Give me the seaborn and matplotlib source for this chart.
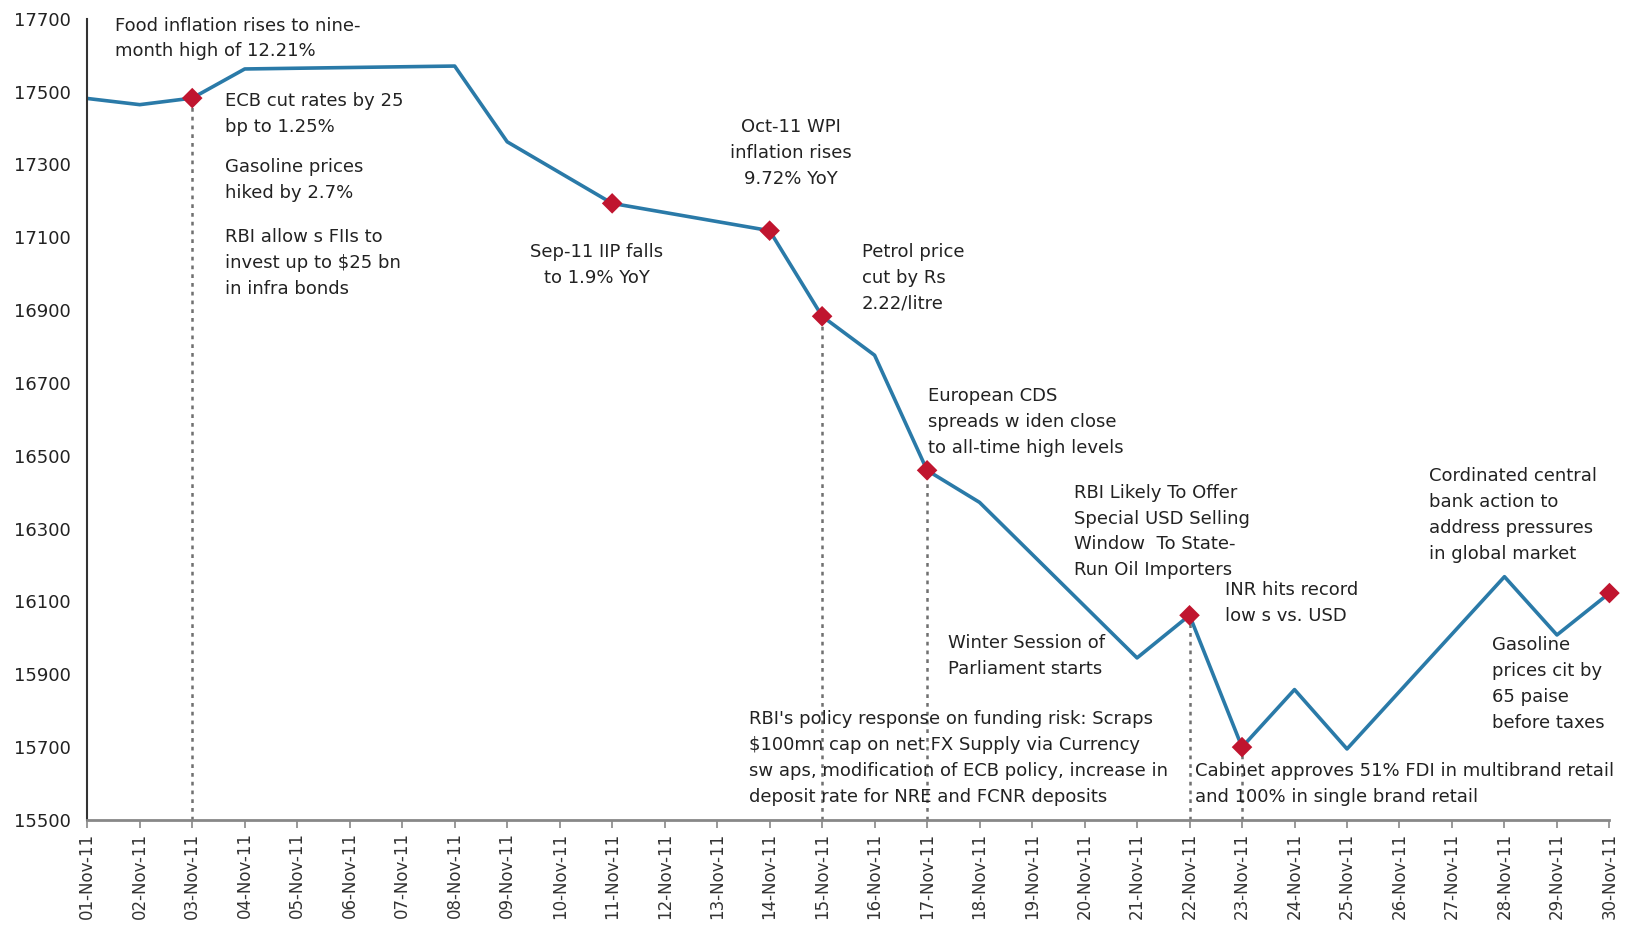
import numpy as np
import pandas as pd
import seaborn as sns
import matplotlib.pyplot as plt

# Sensex closing levels, Nov 2011 (NaN = market closed)
dates = [f"{d:02d}-Nov-11" for d in range(1, 31)]
nan = np.nan
sensex = [17481, 17464, 17482, 17562, nan, nan, nan, 17570, 17362, nan,
          17193, nan, nan, 17118, 16883, 16776, 16460, 16372, nan, nan,
          15945, 16062, 15700, 15858, 15695, nan, nan, 16168, 16008, 16123]

event_days = ["03-Nov-11", "11-Nov-11", "14-Nov-11", "15-Nov-11",
              "17-Nov-11", "22-Nov-11", "23-Nov-11", "30-Nov-11"]
dotted_days = ["03-Nov-11", "15-Nov-11", "17-Nov-11", "22-Nov-11", "23-Nov-11"]

y_ticks = [15500, 15700, 15900, 16100, 16300, 16500, 16700, 16900, 17100, 17300, 17500, 17700]

# (text, x position, top y, alignment)
notes = [
    ("Food inflation rises to nine-\nmonth high of 12.21%", 0.53, 17706, "left"),
    ("ECB cut rates by 25\nbp to 1.25%", 2.63, 17498, "left"),
    ("Gasoline prices\nhiked by 2.7%", 2.63, 17318, "left"),
    ("RBI allow s FIIs to\ninvest up to $25 bn\nin infra bonds", 2.63, 17124, "left"),
    ("Oct-11 WPI\ninflation rises\n9.72% YoY", 13.41, 17426, "center"),
    ("Sep-11 IIP falls\nto 1.9% YoY", 9.71, 17084, "center"),
    ("Petrol price\ncut by Rs\n2.22/litre", 14.76, 17084, "left"),
    ("European CDS\nspreads w iden close\nto all-time high levels", 16.02, 16688, "left"),
    ("RBI Likely To Offer\nSpecial USD Selling\nWindow  To State-\nRun Oil Importers", 18.79, 16423, "left"),
    ("INR hits record\nlow s vs. USD", 21.68, 16155, "left"),
    ("Winter Session of\nParliament starts", 16.40, 16010, "left"),
    ("RBI's policy response on funding risk: Scraps\n$100mn cap on net FX Supply via Currency\n"
     "sw aps, modification of ECB policy, increase in\ndeposit rate for NRE and FCNR deposits", 12.60, 15802, "left"),
    ("Cabinet approves 51% FDI in multibrand retail\nand 100% in single brand retail", 21.11, 15659, "left"),
    ("Cordinated central\nbank action to\naddress pressures\nin global market", 25.56, 16469, "left"),
    ("Gasoline\nprices cit by\n65 paise\nbefore taxes", 26.77, 16004, "left"),
]

df = pd.DataFrame({"date": dates, "sensex": sensex})
df["pos"] = range(len(df))
closed = df.dropna()
events = df[df["date"].isin(event_days)]
dotted = df[df["date"].isin(dotted_days)]

sns.set_style("white")
plt.rcParams["font.family"] = ["DejaVu Sans"]

fig = plt.figure(figsize=(16.28, 9.26), dpi=100)
ax = fig.add_axes([0.0536, 0.1145, 0.935, 0.8653])

# dotted drop lines from the event markers to the axis
for _, row in dotted.iterrows():
    ax.plot([row["pos"], row["pos"]], [15500, row["sensex"]], color="#707070",
            linestyle=(0, (1.5, 2)), linewidth=1.8, zorder=1)

sns.lineplot(data=closed, x="pos", y="sensex", color="#2a7aa8", linewidth=2.6, ax=ax, zorder=2)
sns.scatterplot(data=events, x="pos", y="sensex", marker="D", s=110, color="#c0152f",
                edgecolor="none", ax=ax, zorder=3, clip_on=False)

for text, x, y, ha in notes:
    ax.text(x, y, text, ha=ha, va="top", fontsize=13, color="#222222",
            linespacing=1.56, zorder=4)

ax.set_xlim(0, 29)
ax.set_ylim(15500, 17700)
ax.set_xticks(df["pos"])
ax.set_xticklabels(dates, rotation=90, fontsize=12, color="#333333")
ax.set_yticks(y_ticks)
ax.set_yticklabels([str(v) for v in y_ticks], fontsize=13, color="#222222")
ax.set_xlabel("")
ax.set_ylabel("")

ax.tick_params(axis="y", length=0, pad=12)
ax.tick_params(axis="x", direction="out", length=6, width=1.2, color="#888888", pad=3, bottom=True)
for side in ["top", "right"]:
    ax.spines[side].set_visible(False)
ax.spines["left"].set_color("#333333")
ax.spines["left"].set_linewidth(1.5)
ax.spines["bottom"].set_color("#888888")
ax.spines["bottom"].set_linewidth(2)

fig.savefig("out.png", dpi=100)
